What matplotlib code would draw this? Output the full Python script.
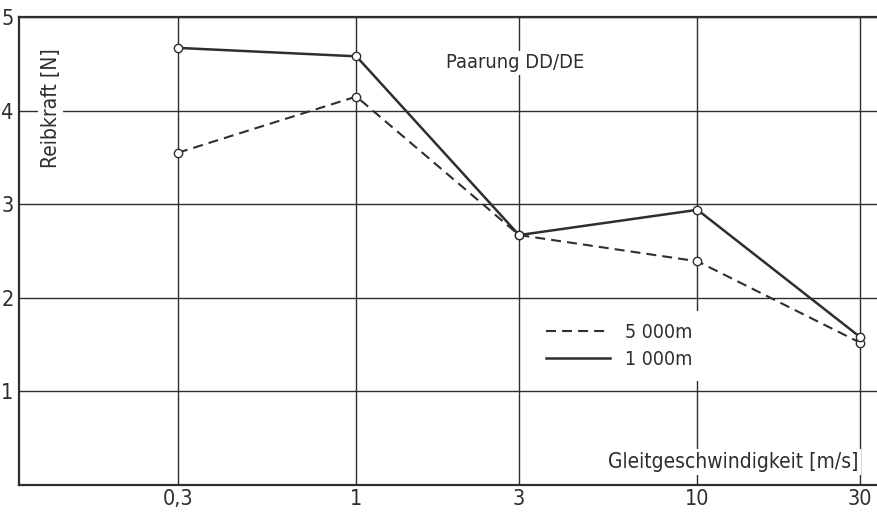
import numpy as np
import matplotlib
matplotlib.use("Agg")
import matplotlib.pyplot as plt

plt.rcParams['font.family'] = ['DejaVu Sans']
plt.rcParams['font.stretch'] = 'condensed'

# Gleitgeschwindigkeit [m/s]
speeds = [0.3, 1, 3, 10, 30]
speed_labels = ["0,3", "1", "3", "10", "30"]
# Reibkraft [N]
force_5000 = [3.55, 4.15, 2.67, 2.39, 1.52]
force_1000 = [4.67, 4.58, 2.67, 2.94, 1.58]
y_ticks = [1, 2, 3, 4, 5]

ink = "#2e2e2e"

fig = plt.figure(figsize=(8.77, 5.21), dpi=100)
ax = fig.add_axes([19/877, 36/521, 858/877, 468/521])

ax.set_xscale("log")
ax.set_xlim(0.1026, 33.6)
ax.set_ylim(0, 5)

ax.plot(speeds, force_5000, color=ink, lw=1.5, dashes=(4.8, 2.9),
        marker="o", ms=6, mfc="white", mec=ink, mew=1.0, label="5 000m", zorder=4)
ax.plot(speeds, force_1000, color=ink, lw=1.8,
        marker="o", ms=6, mfc="white", mec=ink, mew=1.0, label="1 000m", zorder=4)

ax.set_xticks(speeds)
ax.set_xticklabels(speed_labels)
ax.xaxis.set_minor_locator(matplotlib.ticker.NullLocator())
ax.set_yticks(y_ticks)
ax.set_yticklabels([str(v) for v in y_ticks])
ax.tick_params(length=0, labelsize=15.5, colors=ink, pad=3)
ax.tick_params(axis="y", pad=4)

ax.grid(True, color=ink, lw=1.0)
ax.set_axisbelow(True)
for s in ["left", "bottom", "top"]:
    ax.spines[s].set_color(ink)
    ax.spines[s].set_linewidth(1.6)
ax.spines["right"].set_visible(False)

box = dict(facecolor="white", edgecolor="none", pad=2)
ax.text(0.978, 0.049, "Gleitgeschwindigkeit [m/s]", transform=ax.transAxes,
        ha="right", va="center", fontsize=15, color=ink, bbox=box, zorder=5)
ax.text(0.037, 0.806, "Reibkraft [N]", transform=ax.transAxes, rotation=90,
        ha="center", va="center", fontsize=15, color=ink, bbox=box, zorder=5)
ax.text(0.578, 0.902, "Paarung DD/DE", transform=ax.transAxes,
        ha="center", va="center", fontsize=14.4, color=ink, bbox=box, zorder=5)

leg = ax.legend(loc="center left", bbox_to_anchor=(0.601, 0.297), frameon=True,
                fontsize=14, handlelength=3.3, handletextpad=0.75, labelspacing=0.4,
                borderpad=0.6, borderaxespad=0, fancybox=False)
leg.get_frame().set_edgecolor("none")
leg.get_frame().set_facecolor("white")
leg.get_frame().set_alpha(1)
for t in leg.get_texts():
    t.set_color(ink)
for line in leg.get_lines():
    line.set_marker("")

fig.savefig("out.png", dpi=100)
